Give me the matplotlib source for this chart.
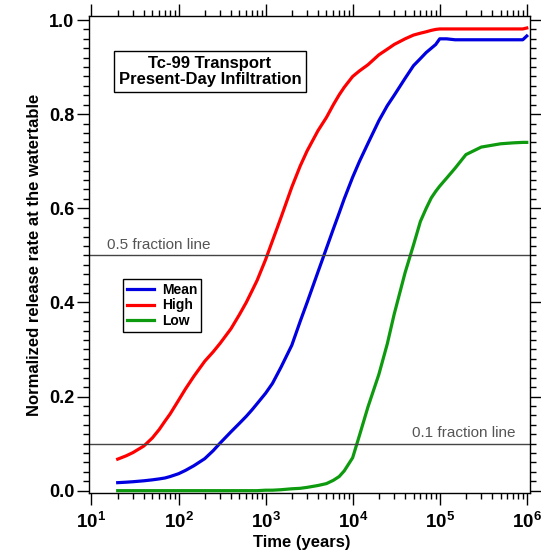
import numpy as np
import matplotlib
matplotlib.use('Agg')
import matplotlib.pyplot as plt
from matplotlib import ticker

plt.rcParams['font.family'] = ['Liberation Sans', 'DejaVu Sans']
plt.rcParams['mathtext.fontset'] = 'custom'
plt.rcParams['mathtext.bf'] = 'Liberation Sans:bold'
plt.rcParams['mathtext.rm'] = 'Liberation Sans'

# time (years) and normalized release rates
time = [20, 25, 30, 40, 50, 60, 70, 80, 100, 120, 150, 200, 250, 300, 400, 500,
        600, 700, 800, 1000, 1200, 1500, 2000, 2500, 3000, 4000, 5000, 6000, 7000,
        8000, 10000, 12000, 15000, 20000, 25000, 30000, 40000, 50000, 60000,
        70000, 80000, 90000, 100000, 120000, 150000, 200000, 300000, 500000,
        700000, 900000, 1000000]
mean = [0.017, 0.018, 0.019, 0.021, 0.023, 0.025, 0.027, 0.030, 0.036, 0.043,
        0.053, 0.068, 0.085, 0.101, 0.125, 0.143, 0.158, 0.172, 0.185, 0.207,
        0.228, 0.262, 0.309, 0.360, 0.400, 0.465, 0.515, 0.556, 0.590, 0.620,
        0.666, 0.700, 0.738, 0.786, 0.818, 0.840, 0.876, 0.903, 0.918, 0.931,
        0.940, 0.948, 0.960, 0.960, 0.958, 0.958, 0.958, 0.958, 0.958, 0.958,
        0.966]
high = [0.067, 0.074, 0.081, 0.095, 0.112, 0.130, 0.148, 0.163, 0.192, 0.216,
        0.243, 0.275, 0.295, 0.313, 0.344, 0.374, 0.400, 0.425, 0.447, 0.491,
        0.531, 0.580, 0.645, 0.690, 0.722, 0.765, 0.793, 0.820, 0.841, 0.857,
        0.880, 0.892, 0.905, 0.926, 0.938, 0.948, 0.960, 0.968, 0.972, 0.975,
        0.978, 0.980, 0.981, 0.981, 0.981, 0.981, 0.981, 0.981, 0.981, 0.981,
        0.983]
low = [0.0, 0.0, 0.0, 0.0, 0.0, 0.0, 0.0, 0.0, 0.0, 0.0, 0.0, 0.0, 0.0, 0.0,
       0.0, 0.0, 0.0, 0.0, 0.0, 0.001, 0.001, 0.002, 0.004, 0.005, 0.007, 0.011,
       0.015, 0.022, 0.030, 0.042, 0.070, 0.118, 0.178, 0.247, 0.312, 0.375,
       0.463, 0.522, 0.572, 0.600, 0.622, 0.636, 0.647, 0.664, 0.685, 0.714,
       0.730, 0.737, 0.739, 0.740, 0.740]

fig = plt.figure(figsize=(5.41, 5.5), dpi=100)
ax = fig.add_axes([0.1645, 0.1036, 0.8152, 0.8673])

ax.plot(time, mean, color='#0000e0', lw=2.3, label='Mean')
ax.plot(time, high, color='#ff0000', lw=2.3, label='High')
ax.plot(time, low, color='#0e9a0e', lw=2.3, label='Low')

ax.axhline(0.5, color='#444444', lw=1.0)
ax.axhline(0.1, color='#444444', lw=1.0)
ax.text(0.041, 0.507, '0.5 fraction line', transform=ax.get_yaxis_transform(),
        fontsize=11, color='#555555', va='bottom', ha='left')
ax.text(0.968, 0.107, '0.1 fraction line', transform=ax.get_yaxis_transform(),
        fontsize=11, color='#555555', va='bottom', ha='right')

ax.set_xscale('log')
ax.set_xlim(9.36, 1.09e6)
ax.set_ylim(-0.005, 1.0085)

ax.xaxis.set_major_locator(ticker.LogLocator(base=10, numticks=10))
ax.xaxis.set_minor_locator(ticker.LogLocator(base=10, subs=np.arange(2, 10), numticks=10))
ax.xaxis.set_major_formatter(ticker.FuncFormatter(
    lambda v, p: r'$\mathbf{10^{%d}}$' % round(np.log10(v))))
ax.xaxis.set_minor_formatter(ticker.NullFormatter())
ax.yaxis.set_major_locator(ticker.MultipleLocator(0.2))
ax.yaxis.set_minor_locator(ticker.MultipleLocator(0.02))
ax.yaxis.set_major_formatter(ticker.FormatStrFormatter('%.1f'))

ax.tick_params(which='both', direction='out', top=True, right=True,
               labeltop=False, labelright=False, width=1.0, color='black')
ax.tick_params(which='major', length=8.5)
ax.tick_params(which='minor', length=4.5)
ax.tick_params(axis='y', which='major', labelsize=13, pad=2)
ax.tick_params(axis='x', which='major', labelsize=13.5, pad=5)
for lab in ax.get_yticklabels():
    lab.set_fontweight('bold')
for s in ax.spines.values():
    s.set_linewidth(1.0)

ax.set_xlabel('Time (years)', fontsize=12, fontweight='bold')
ax.xaxis.set_label_coords(0.483, -0.087)
ax.set_ylabel('Normalized release rate at the watertable', fontsize=12,
              fontweight='bold', labelpad=5)

ax.text(0.2744, 0.8836, 'Tc-99 Transport\nPresent-Day Infiltration',
        transform=ax.transAxes, ha='center', va='center', fontsize=12,
        fontweight='bold', linespacing=1.05,
        bbox=dict(boxstyle='square,pad=0.3', fc='white', ec='black', lw=1.0))

leg = ax.legend(loc='lower left', bbox_to_anchor=(0.0771, 0.3375),
                prop={'weight': 'bold', 'size': 10},
                fancybox=False, edgecolor='black', framealpha=1,
                handlelength=1.9, handletextpad=0.6, labelspacing=0.1,
                borderpad=0.3, borderaxespad=0)
leg.get_frame().set_linewidth(1.0)

fig.savefig('out.png', dpi=100)
